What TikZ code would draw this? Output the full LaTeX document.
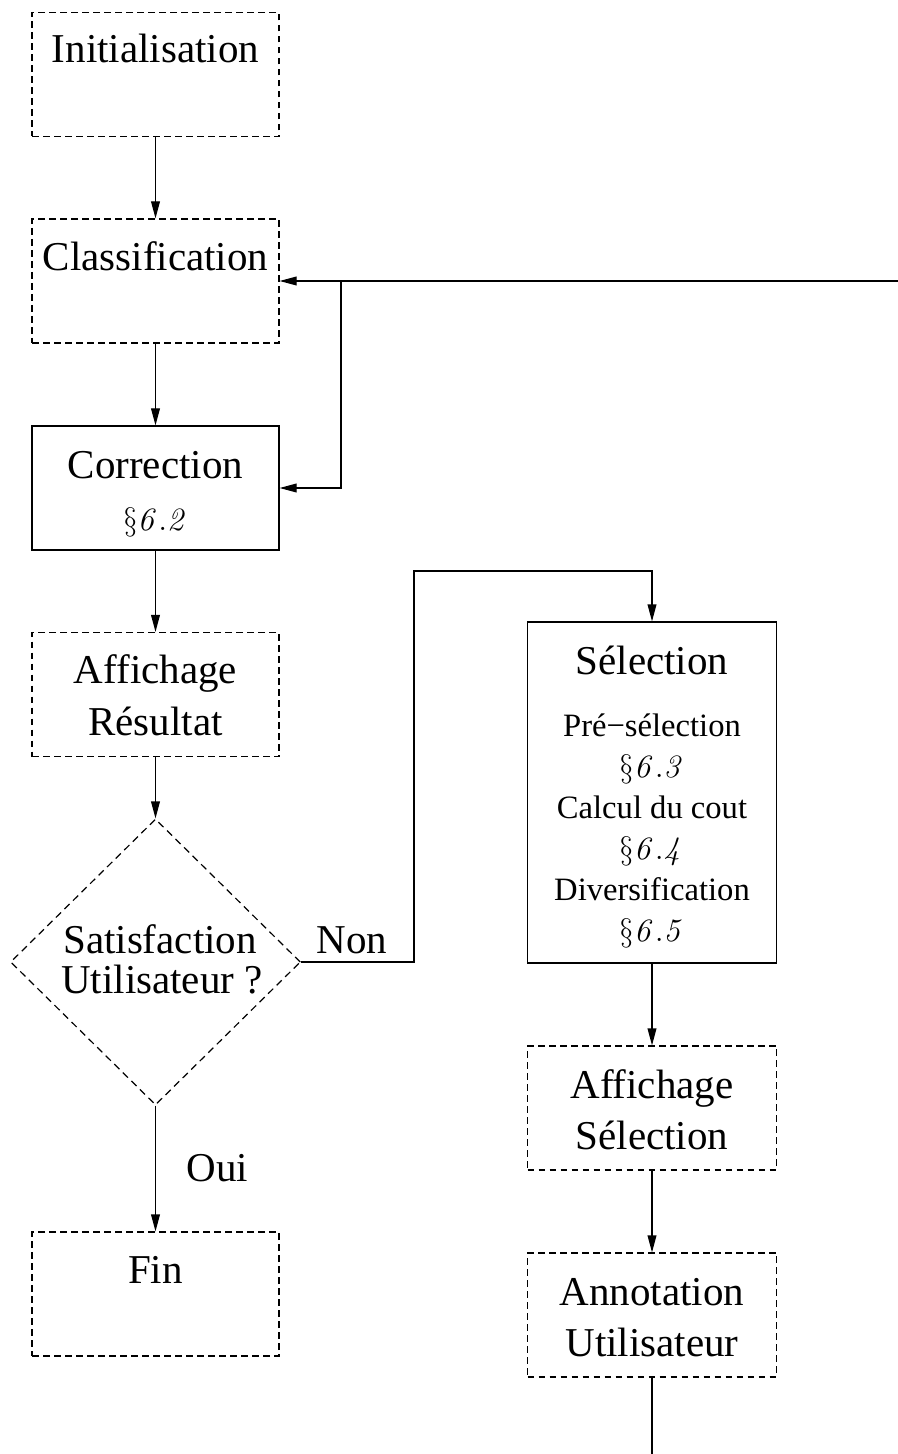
\RequirePackage{fix-cm}
\documentclass[tikz,border=0pt]{standalone}
\usepackage[no-math]{fontspec}
\setmainfont{Liberation Serif}
\usetikzlibrary{arrows.meta,shapes.geometric}
\begin{document}
\begin{tikzpicture}[x=0.5pt,y=-0.5pt,
  line width=0.6pt,
  dbox/.style={draw, dash pattern=on 3.3pt off 2.2pt, inner sep=0pt, minimum width=123.5pt, minimum height=62pt},
  sbox/.style={draw, inner sep=0pt, minimum width=123.5pt, minimum height=62pt},
  big/.style={font=\fontsize{20.5}{26}\selectfont, inner sep=0pt, anchor=base},
  small/.style={font=\fontsize{16.3}{20.5}\selectfont, inner sep=0pt, anchor=base},
  arr/.style={-{Triangle[length=8.5pt,width=4.4pt]}},
]
\useasboundingbox (0,0) rectangle (898,1454);

% left column
\node[dbox] (init) at (155.5,74.5) {};
\node[big] (tinit) at (155.5,63) {Initialisation};
\node[dbox] (class) at (155.5,281) {};
\node[big] (tclass) at (155.5,271) {Classification};
\node[sbox] (corr) at (155.5,488) {};
\node[big] (tcorr) at (155.5,478) {Correction};
\node[small] (scorr) at (155.5,530) {$\S\mathit{6.2}$};
\node[dbox] (affres) at (155.5,694.5) {};
\node[big] (taffresA) at (155.5,683) {Affichage};
\node[big] (taffresB) at (155.5,735) {Résultat};
\node[draw, diamond, dash pattern=on 3.6pt off 2.4pt, inner sep=0pt,
      minimum width=145pt, minimum height=143pt] (dia) at (155.5,962) {};
\node[big] (tdiaA) at (160,953) {Satisfaction};
\node[big] (tdiaB) at (162,993) {Utilisateur ?};
\node[dbox] (fin) at (155.5,1294) {};
\node[big] (tfin) at (155.5,1283) {Fin};

% right column
\node[sbox, minimum width=124.5pt, minimum height=170.5pt] (sel) at (652,792.5) {};
\node[big] (tsel) at (652,674) {Sélection};
\node[small] (tpre) at (652,736) {Pré−sélection};
\node[small] (spre) at (652,777) {$\S\mathit{6.3}$};
\node[small] (tcal) at (652,818) {Calcul du cout};
\node[small] (scal) at (652,859) {$\S\mathit{6.4}$};
\node[small] (tdiv) at (652,900) {Diversification};
\node[small] (sdiv) at (652,941) {$\S\mathit{6.5}$};
\node[dbox, minimum width=124.5pt] (affsel) at (652,1108) {};
\node[big] (taffselA) at (652,1098) {Affichage};
\node[big] (taffselB) at (652,1149) {Sélection};
\node[dbox, minimum width=124.5pt] (annot) at (652,1315) {};
\node[big] (tannotA) at (652,1305) {Annotation};
\node[big] (tannotB) at (652,1356) {Utilisateur};

% labels
\node[big] (non) at (351.7,953) {Non};
\node[big] (oui) at (217.3,1181) {Oui};

% connectors
\draw[arr] (init.south) -- (class.north);
\draw[arr] (class.south) -- (corr.north);
\draw[arr] (corr.south) -- (affres.north);
\draw[arr] (affres.south) -- (dia.north);
\draw[arr] (dia.south) -- (fin.north);
\coordinate (nonA) at (414,962);
\coordinate (nonB) at (414,571);
\draw[arr] (dia.east) -- (nonA) -- (nonB) -| (sel.north);
\draw[arr] (sel.south) -- (affsel.north);
\draw[arr] (affsel.south) -- (annot.north);
\coordinate (outB) at (652,1454);
\draw (annot.south) -- (outB);
\coordinate (feedR) at (898,281);
\coordinate (brA) at (341,281);
\draw[arr] (feedR) -- (class.east);
\draw[arr] (brA) |- (corr.east);
\end{tikzpicture}
\end{document}
